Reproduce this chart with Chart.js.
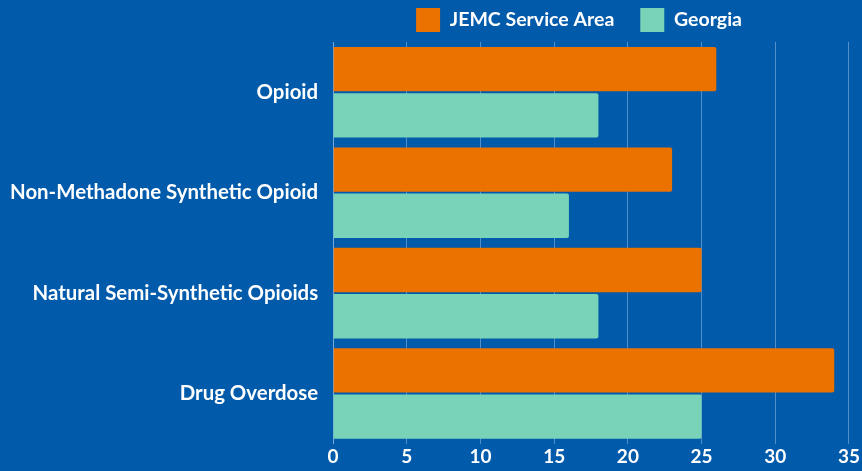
<!DOCTYPE html>
<html lang="en">
<head>
    <meta charset="UTF-8">
    <title>Opioid Chart</title>
    <script src="https://cdn.jsdelivr.net/npm/chart.js"></script>
    <style>
        body {
            margin: 0;
            background-color: #015aaa;
        }
        .chart-wrapper {
            width: 862px;
            height: 471px;
        }
    </style>
</head>
<body>
    <div class="chart-wrapper">
        <canvas id="barChart"></canvas>
    </div>

    <script>
        // Data
        const categories = ['Opioid', 'Non-Methadone Synthetic Opioid', 'Natural Semi-Synthetic Opioids', 'Drug Overdose'];
        const jemcValues = [26, 23, 25, 34];
        const georgiaValues = [18, 16, 18, 25];

        Chart.defaults.font.family = 'Lato, sans-serif';
        Chart.defaults.font.weight = 'bold';
        Chart.defaults.color = '#ffffff';

        // nudge the legend a bit left of the plot centre
        const legendShift = {
            id: 'legendShift',
            afterLayout(chart) {
                chart.legend.left -= 12;
                chart.legend.right -= 12;
            }
        };

        const barConfig = {
            type: 'bar',
            data: {
                labels: categories,
                datasets: [
                    {
                        label: 'JEMC Service Area',
                        data: jemcValues,
                        backgroundColor: '#ec7200',
                        borderRadius: 2,
                        borderSkipped: 'start'
                    },
                    {
                        label: 'Georgia',
                        data: georgiaValues,
                        backgroundColor: '#78d3b8',
                        borderRadius: 2,
                        borderSkipped: 'start'
                    }
                ]
            },
            options: {
                indexAxis: 'y',
                responsive: true,
                maintainAspectRatio: false,
                animation: false,
                categoryPercentage: 0.92,
                barPercentage: 0.96,
                layout: {
                    padding: { left: -5, right: 12, top: -18, bottom: 0 }
                },
                scales: {
                    x: {
                        min: 0,
                        max: 35,
                        ticks: {
                            stepSize: 5,
                            font: { size: 19, weight: 'bold' },
                            color: '#ffffff',
                            padding: 2
                        },
                        grid: {
                            color: 'rgba(150, 190, 230, 0.55)',
                            drawTicks: false
                        },
                        border: { display: false }
                    },
                    y: {
                        ticks: {
                            font: { size: 20.4, weight: 'bold' },
                            color: '#ffffff',
                            padding: 15
                        },
                        grid: { display: false, drawTicks: false },
                        border: { display: true, color: 'rgba(150, 190, 230, 0.55)' }
                    }
                },
                plugins: {
                    legend: {
                        position: 'top',
                        fullSize: false,
                        labels: {
                            boxWidth: 24,
                            boxHeight: 24,
                            padding: 26,
                            font: { size: 19.5, weight: 'bold' },
                            color: '#ffffff'
                        }
                    },
                    tooltip: { enabled: false }
                }
            },
            plugins: [legendShift]
        };

        const barCtx = document.getElementById('barChart').getContext('2d');
        new Chart(barCtx, barConfig);
    </script>
</body>
</html>
